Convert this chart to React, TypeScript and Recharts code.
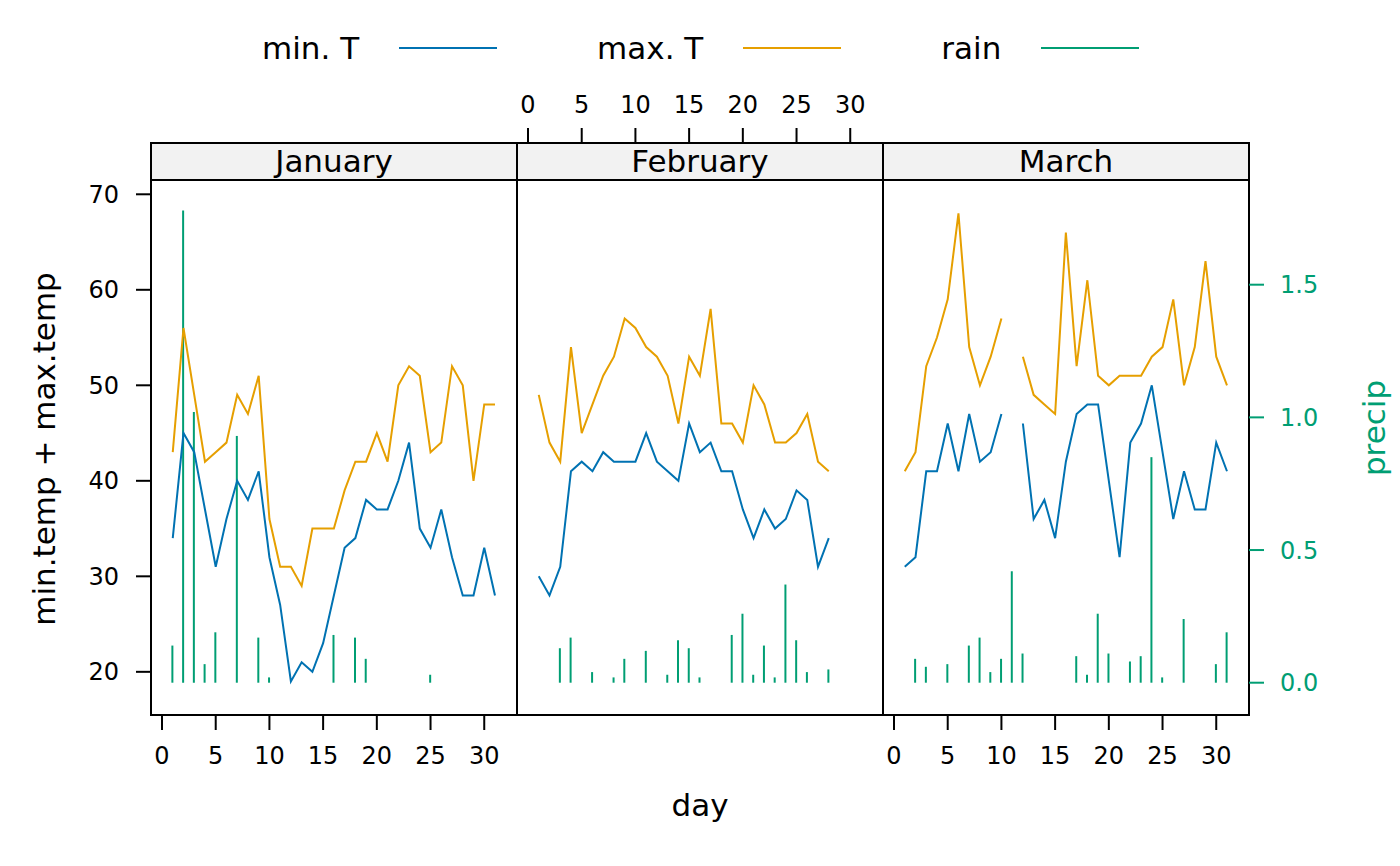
import { Bar, ComposedChart, Line, ReferenceArea, XAxis, YAxis } from "recharts";

// daily values
const janMin = [34, 45, 43, 37, 31, 36, 40, 38, 41, 32, 27, 19, 21, 20, 23, 28, 33, 34, 38, 37, 37, 40, 44, 35, 33, 37, 32, 28, 28, 33, 28];
const janMax = [43, 56, 49, 42, 43, 44, 49, 47, 51, 36, 31, 31, 29, 35, 35, 35, 39, 42, 42, 45, 42, 50, 52, 51, 43, 44, 52, 50, 40, 48, 48];
const janRain = [0.14, 1.78, 1.02, 0.07, 0.19, 0, 0.93, 0, 0.17, 0.02, 0, 0, 0, 0, 0, 0.18, 0, 0.17, 0.09, 0, 0, 0, 0, 0, 0.03, 0, 0, 0, 0, 0, 0];

const febMin = [30, 28, 31, 41, 42, 41, 43, 42, 42, 42, 45, 42, 41, 40, 46, 43, 44, 41, 41, 37, 34, 37, 35, 36, 39, 38, 31, 34];
const febMax = [49, 44, 42, 54, 45, 48, 51, 53, 57, 56, 54, 53, 51, 46, 53, 51, 58, 46, 46, 44, 50, 48, 44, 44, 45, 47, 42, 41];
const febRain = [0, 0, 0.13, 0.17, 0, 0.04, 0, 0.02, 0.09, 0, 0.12, 0, 0.03, 0.16, 0.13, 0.02, 0, 0, 0.18, 0.26, 0.03, 0.14, 0.02, 0.37, 0.16, 0.04, 0, 0.05];

const marMin = [31, 32, 41, 41, 46, 41, 47, 42, 43, 47, null, 46, 36, 38, 34, 42, 47, 48, 48, 40, 32, 44, 46, 50, 43, 36, 41, 37, 37, 44, 41];
const marMax = [41, 43, 52, 55, 59, 68, 54, 50, 53, 57, null, 53, 49, 48, 47, 66, 52, 61, 51, 50, 51, 51, 51, 53, 54, 59, 50, 54, 63, 53, 50];
const marRain = [0, 0.09, 0.06, 0, 0.07, 0, 0.14, 0.17, 0.04, 0.09, 0.42, 0.11, 0, 0, 0, 0, 0.1, 0.03, 0.26, 0.11, 0, 0.08, 0.1, 0.85, 0.02, 0, 0.24, 0, 0, 0.07, 0.19];

const dayTicks = [0, 5, 10, 15, 20, 25, 30];
const tempTicks = [20, 30, 40, 50, 60, 70];
const precipTicks = [0, 0.5, 1, 1.5];

const seriesNames = ["min. T", "max. T", "rain"];
const seriesColors = ["#0072B2", "#E69F00", "#009E73"];

const X_DOMAIN: [number, number] = [-1.025, 33.05];
const T_DOMAIN: [number, number] = [15.48, 75.37];
const STRIP_LO = 71.5;
const R_DOMAIN: [number, number] = [-0.1217, 2.034];

const PLOT_W = 366;
const PLOT_H = 572;
const TOP_H = 80;
const BOTTOM_H = 60;
const AXIS_W = 100;
const TICK_FONT = 24;
const TEXT_FONT = 31;

type PanelProps = {
  name: string;
  min: (number | null)[];
  max: (number | null)[];
  rain: number[];
  left: number;
  showLeft?: boolean;
  showRight?: boolean;
  topLabels?: boolean;
  bottomLabels?: boolean;
};

function Panel({ name, min, max, rain, left, showLeft = false, showRight = false, topLabels = false, bottomLabels = false }: PanelProps) {
  const data = min.map((v, i) => ({ day: i + 1, min: v, max: max[i], rain: rain[i] }));
  const width = PLOT_W + (showLeft ? AXIS_W : 0) + (showRight ? AXIS_W : 0);
  const blackTick = { fill: "#000", fontSize: TICK_FONT };
  const blackLine = { stroke: "#000", strokeWidth: 2 };

  return (
    <div style={{ position: "absolute", left: showLeft ? left - AXIS_W : left, top: 143 - TOP_H }}>
      <ComposedChart width={width} height={TOP_H + PLOT_H + BOTTOM_H} data={data} margin={{ top: 0, right: 0, bottom: 0, left: 0 }}>
        <XAxis
          xAxisId="b"
          type="number"
          dataKey="day"
          domain={X_DOMAIN}
          allowDataOverflow
          ticks={dayTicks}
          interval={0}
          orientation="bottom"
          height={BOTTOM_H}
          axisLine={false}
          tickSize={15}
          tickMargin={17}
          tickLine={blackLine}
          tick={bottomLabels ? blackTick : false}
        />
        <XAxis
          xAxisId="t"
          type="number"
          dataKey="day"
          domain={X_DOMAIN}
          allowDataOverflow
          ticks={dayTicks}
          interval={0}
          orientation="top"
          height={TOP_H}
          axisLine={false}
          tickSize={15}
          tickMargin={15}
          tickLine={blackLine}
          tick={topLabels ? blackTick : false}
        />
        <YAxis
          yAxisId="t"
          type="number"
          domain={T_DOMAIN}
          allowDataOverflow
          ticks={tempTicks}
          interval={0}
          orientation="left"
          width={AXIS_W}
          hide={!showLeft}
          axisLine={false}
          tickSize={15}
          tickMargin={17}
          tickLine={blackLine}
          tick={blackTick}
        />
        <YAxis
          yAxisId="r"
          type="number"
          domain={R_DOMAIN}
          allowDataOverflow
          ticks={precipTicks}
          interval={0}
          orientation="right"
          width={AXIS_W}
          hide={!showRight}
          axisLine={false}
          tickSize={15}
          tickMargin={16}
          tickLine={{ stroke: seriesColors[2], strokeWidth: 2 }}
          tick={{ fill: seriesColors[2], fontSize: TICK_FONT }}
          tickFormatter={(v: number) => v.toFixed(1)}
        />
        <ReferenceArea
          xAxisId="b"
          yAxisId="t"
          x1={X_DOMAIN[0]}
          x2={X_DOMAIN[1]}
          y1={STRIP_LO}
          y2={T_DOMAIN[1]}
          fill="#F2F2F2"
          fillOpacity={1}
          stroke="#000"
          strokeWidth={2}
          label={{ value: name, position: "center", fontSize: TEXT_FONT, fill: "#000" }}
        />
        <ReferenceArea
          xAxisId="b"
          yAxisId="t"
          x1={X_DOMAIN[0]}
          x2={X_DOMAIN[1]}
          y1={T_DOMAIN[0]}
          y2={T_DOMAIN[1]}
          fill="none"
          stroke="#000"
          strokeWidth={2}
        />
        <Bar xAxisId="b" yAxisId="r" dataKey="rain" barSize={2} fill={seriesColors[2]} isAnimationActive={false} />
        <Line xAxisId="b" yAxisId="t" type="linear" dataKey="min" stroke={seriesColors[0]} strokeWidth={2} dot={false} activeDot={false} isAnimationActive={false} />
        <Line xAxisId="b" yAxisId="t" type="linear" dataKey="max" stroke={seriesColors[1]} strokeWidth={2} dot={false} activeDot={false} isAnimationActive={false} />
      </ComposedChart>
    </div>
  );
}

export default function App() {
  return (
    <div
      style={{
        position: "absolute",
        left: 0,
        top: 0,
        width: 1400,
        height: 866,
        background: "#fff",
        fontFamily: '"DejaVu Sans", sans-serif',
        color: "#000",
      }}
    >
      {/* legend */}
      <div style={{ position: "absolute", left: 262, top: 33, display: "flex", alignItems: "center", height: 31, fontSize: TEXT_FONT, lineHeight: 1, whiteSpace: "nowrap" }}>
        {seriesNames.map((n, i) => (
          <div key={n} style={{ display: "flex", alignItems: "center", marginRight: i < 2 ? 100 : 0 }}>
            <span>{n}</span>
            <div style={{ width: 98, height: 0, borderTop: `2px solid ${seriesColors[i]}`, marginLeft: 40, marginTop: -2 }} />
          </div>
        ))}
      </div>

      <Panel name="January" min={janMin} max={janMax} rain={janRain} left={151} showLeft bottomLabels />
      <Panel name="February" min={febMin} max={febMax} rain={febRain} left={517} topLabels />
      <Panel name="March" min={marMin} max={marMax} rain={marRain} left={883} showRight bottomLabels />

      <div style={{ position: "absolute", left: 700, top: 790, transform: "translateX(-50%)", fontSize: TEXT_FONT, lineHeight: 1, whiteSpace: "nowrap" }}>day</div>
      <div
        style={{
          position: "absolute",
          left: 44,
          top: 449,
          transform: "translate(-50%, -50%) rotate(-90deg)",
          fontSize: TEXT_FONT,
          lineHeight: 1,
          whiteSpace: "nowrap",
        }}
      >
        min.temp + max.temp
      </div>
      <div
        style={{
          position: "absolute",
          left: 1374,
          top: 428,
          transform: "translate(-50%, -50%) rotate(-90deg)",
          fontSize: TEXT_FONT,
          lineHeight: 1,
          whiteSpace: "nowrap",
          color: seriesColors[2],
        }}
      >
        precip
      </div>
    </div>
  );
}
